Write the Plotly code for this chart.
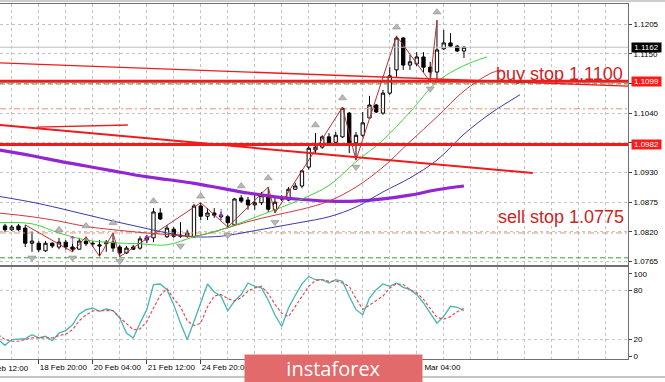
import plotly.graph_objects as go

# ---------------- data (EURUSD H4) ----------------
opens = [1.0831, 1.0824, 1.0831, 1.0827, 1.0799, 1.0799, 1.0785, 1.0799, 1.0792, 1.0801,
         1.0792, 1.0788, 1.0803, 1.0799, 1.0796, 1.0798, 1.0801, 1.0792, 1.0781, 1.0792,
         1.0790, 1.0805, 1.0809, 1.0855, 1.0811, 1.0825, 1.0814, 1.0812, 1.0811, 1.0868,
         1.0849, 1.0855, 1.0851, 1.0848, 1.0833, 1.0883, 1.0879, 1.0870, 1.0874, 1.0885,
         1.0861, 1.0883, 1.0879, 1.0899, 1.0905, 1.0940, 1.0972, 1.0977, 1.0996, 1.0986,
         1.0996, 1.1040, 1.0985, 1.0999, 1.1031, 1.1055, 1.1040, 1.1077, 1.1120, 1.1179,
         1.1129, 1.1131, 1.1144, 1.1125, 1.1116, 1.1159, 1.1170, 1.1164, 1.1155]
closes = [1.0824, 1.0829, 1.0824, 1.0799, 1.0803, 1.0787, 1.0799, 1.0794, 1.0801, 1.0792,
          1.0788, 1.0803, 1.0798, 1.0798, 1.0794, 1.0801, 1.0790, 1.0781, 1.0790, 1.0788,
          1.0807, 1.0809, 1.0857, 1.0844, 1.0827, 1.0812, 1.0812, 1.0818, 1.0868, 1.0849,
          1.0855, 1.0851, 1.0848, 1.0837, 1.0881, 1.0877, 1.0870, 1.0874, 1.0887, 1.0862,
          1.0875, 1.0881, 1.0899, 1.0905, 1.0933, 1.0975, 1.0977, 1.0996, 1.0985, 1.0999,
          1.1049, 1.0985, 1.0999, 1.1022, 1.1055, 1.1042, 1.1077, 1.1109, 1.1179, 1.1129,
          1.1135, 1.1144, 1.1125, 1.1116, 1.1157, 1.1170, 1.1164, 1.1155, 1.1162]
highs = [1.0835, 1.0833, 1.0835, 1.0833, 1.0820, 1.0803, 1.0803, 1.0801, 1.0809, 1.0805,
         1.0798, 1.0809, 1.0811, 1.0803, 1.0805, 1.0805, 1.0818, 1.0796, 1.0794, 1.0796,
         1.0812, 1.0814, 1.0864, 1.0864, 1.0833, 1.0829, 1.0838, 1.0824, 1.0872, 1.0874,
         1.0864, 1.0864, 1.0857, 1.0851, 1.0883, 1.0888, 1.0885, 1.0888, 1.0894, 1.0903,
         1.0883, 1.0888, 1.0903, 1.0911, 1.0935, 1.0979, 1.1003, 1.0999, 1.1003, 1.1005,
         1.1051, 1.1042, 1.1005, 1.1042, 1.1072, 1.1057, 1.1083, 1.1125, 1.1183, 1.1181,
         1.1148, 1.1153, 1.1153, 1.1135, 1.1212, 1.1194, 1.1188, 1.1166, 1.1164]
lows = [1.0820, 1.0822, 1.0822, 1.0792, 1.0783, 1.0783, 1.0783, 1.0790, 1.0788, 1.0787,
        1.0783, 1.0787, 1.0794, 1.0792, 1.0775, 1.0783, 1.0783, 1.0774, 1.0779, 1.0787,
        1.0787, 1.0799, 1.0801, 1.0842, 1.0809, 1.0809, 1.0809, 1.0809, 1.0809, 1.0842,
        1.0842, 1.0846, 1.0842, 1.0829, 1.0831, 1.0874, 1.0861, 1.0861, 1.0870, 1.0857,
        1.0855, 1.0877, 1.0877, 1.0898, 1.0901, 1.0935, 1.0966, 1.0974, 1.0981, 1.0985,
        1.0994, 1.0966, 1.0953, 1.0996, 1.1031, 1.1040, 1.1037, 1.1074, 1.1107, 1.1120,
        1.1120, 1.1127, 1.1116, 1.1098, 1.1101, 1.1157, 1.1162, 1.1153, 1.1142]
candle_idx = list(range(len(opens)))

# moving averages (bar index, price)
green_idx = [-1, 4, 8, 12, 16, 20, 24, 28, 32, 36, 40, 44, 48, 52, 56, 60, 64, 68, 71.4]
green_val = [1.0837, 1.0835, 1.0818, 1.0805, 1.0800, 1.0798, 1.0796, 1.0811, 1.0824, 1.0842,
             1.0861, 1.0881, 1.0906, 1.0950, 1.0990, 1.1042, 1.1098, 1.1128, 1.1144]
red_idx = [-1, 4, 8, 12, 16, 20, 24, 28, 32, 36, 40, 44, 48, 52, 56, 60, 64, 68, 72, 73.5]
red_val = [1.0855, 1.0848, 1.0840, 1.0830, 1.0824, 1.0819, 1.0815, 1.0812, 1.0824, 1.0839,
           1.0851, 1.0862, 1.0877, 1.0903, 1.0940, 1.0987, 1.1033, 1.1081, 1.1114, 1.1120]
blue_idx = [-1, 4, 8, 12, 16, 20, 24, 28, 32, 36, 40, 44, 48, 52, 56, 60, 64, 68, 72, 76.3]
blue_val = [1.0886, 1.0875, 1.0864, 1.0852, 1.0840, 1.0829, 1.0818, 1.0811, 1.0812, 1.0820,
            1.0829, 1.0838, 1.0848, 1.0866, 1.0894, 1.0920, 1.0953, 1.1001, 1.1040, 1.1074]
purple_idx = [-1, 4, 8, 12, 16, 20, 24, 28, 32, 36, 40, 44, 48, 52, 56, 60, 64, 68]
purple_val = [1.0972, 1.0961, 1.0951, 1.0942, 1.0933, 1.0924, 1.0917, 1.0910, 1.0901, 1.0892,
              1.0885, 1.0880, 1.0877, 1.0877, 1.0881, 1.0888, 1.0898, 1.0905]

# zigzag and fractals
zz_idx = [3, 10, 12, 14, 16, 17, 29, 33, 39, 40, 50, 52, 58, 63, 64]
zz_val = [1.0833, 1.0783, 1.0811, 1.0775, 1.0818, 1.0774, 1.0874, 1.0829, 1.0903, 1.0855,
          1.1051, 1.0953, 1.1183, 1.1098, 1.1212]
frac_up_idx = [8, 12, 16, 22, 29, 35, 39, 46, 50, 58, 64]
frac_up_val = [1.0824, 1.0831, 1.0837, 1.0877, 1.0886, 1.0905, 1.0920, 1.1018, 1.1068, 1.1199, 1.1227]
frac_dn_idx = [4, 10, 17, 26, 33, 40, 52, 63]
frac_dn_val = [1.0772, 1.0772, 1.0766, 1.0794, 1.0814, 1.0838, 1.0940, 1.1085]
sig_up_idx = [10, 21]
sig_up_val = [1.0803, 1.0805]
sig_dn_idx = [32]
sig_dn_val = [1.0853]

# horizontal levels and trend lines
key_levels = [1.1099, 1.0982]
green_dash_levels = [1.1094, 1.0772]
orange_levels = [1.1048, 1.0818]
bid_price = 1.1162
trend_upper_idx = [-0.74, 92.3]
trend_upper_val = [1.1133, 1.1090]
trend_lower_idx = [-0.74, 78.2]
trend_lower_val = [1.1018, 1.0929]
trend_short_idx = [4.7, 18.2]
trend_short_val = [1.1014, 1.1018]

# stochastic
stoch_idx = list(range(-1, 69))
stoch_main = [20, 13, 20, 20.5, 21, 26, 22, 24, 18.7, 28, 31, 38, 51, 56.5, 58.5, 54.5, 57.3, 55.3,
              46.3, 28, 22, 40, 56.5, 87, 87.8, 80.9, 62.6, 40, 20, 42, 64.6, 87.8, 78, 72.8,
              55.3, 67, 75, 89, 85, 83, 68, 50, 36, 58.5, 74, 88, 97, 93, 93, 89, 93, 91, 72.8,
              56.5, 50.4, 70.7, 80.9, 87.8, 85, 89, 83.7, 80.9, 74.8, 64.6, 52.4, 40, 48.4,
              60.6, 59.4, 55.3]
stoch_signal = [26, 20, 18, 18, 20, 22, 22, 22, 22, 25, 26.5, 32, 43, 50, 55, 55.3, 55.3, 55.3,
                47, 39, 32, 33, 42, 58.5, 74, 82, 70, 60, 43, 37, 40, 60, 73, 75, 70, 67, 71,
                79, 83, 85, 76, 63, 52, 48, 60, 72, 85, 92, 93, 91, 91.5, 89, 85, 70, 57, 62,
                68, 73, 83, 88, 87, 81, 77, 69, 58, 47, 45, 48, 54, 58]
stoch_levels = [20, 80]

# axes
price_ticks = [1.0765, 1.0820, 1.0875, 1.0930, 1.0985, 1.1040, 1.1095, 1.1150, 1.1205]
stoch_ticks = [0, 20, 80, 100]
time_tick_idx = [5, 13, 21, 29, 37, 45, 53, 61]
time_tick_text = ["18 Feb 20:00", "20 Feb 04:00", "21 Feb 12:00", "24 Feb 20:00",
                  "26 Feb 04:00", "27 Feb 12:00", "28 Feb 20:00", "3 Mar 04:00"]
first_time_label = "17 Feb 12:00"
grid_idx = list(range(1, 93, 4))

X_RANGE = [-0.741, 92.3]
Y_RANGE = [1.07587, 1.12430]
Y2_RANGE = [-3.66, 108.5]

GRID = "#c4c4c4"
BORDER = "#707070"
RED = "#ee1c1c"

fig = go.Figure()

fig.add_trace(go.Candlestick(
    x=candle_idx, open=opens, high=highs, low=lows, close=closes,
    increasing=dict(line=dict(color="black", width=1), fillcolor="white"),
    decreasing=dict(line=dict(color="black", width=1), fillcolor="black"),
    whiskerwidth=0, hoverinfo="skip", showlegend=False, xaxis="x", yaxis="y"))


def line(x, y, color, width=1, dash="solid", xa="x", ya="y", shape="linear"):
    fig.add_trace(go.Scatter(x=x, y=y, mode="lines", xaxis=xa, yaxis=ya,
                             line=dict(color=color, width=width, dash=dash, shape=shape),
                             hoverinfo="skip", showlegend=False))


# levels
line(X_RANGE, [bid_price, bid_price], "#c0c0c0", 1)
for p in green_dash_levels:
    line(X_RANGE, [p, p], "#3c9c3c", 1, "5px,3px")
for p in orange_levels:
    line(X_RANGE, [p, p], "#e8906a", 1, "6px,3px,2px,3px")

# moving averages
line(purple_idx, purple_val, "#9326d4", 3.2, shape="spline")
line(blue_idx, blue_val, "#3a3aa8", 1, shape="spline")
line(red_idx, red_val, "#cc3b3b", 1, shape="spline")
line(green_idx, green_val, "#3ed43e", 1, shape="spline")

# zigzag
line(zz_idx, zz_val, "#b83030", 1)

# fractals
fig.add_trace(go.Scatter(x=frac_up_idx, y=frac_up_val, mode="markers", xaxis="x", yaxis="y",
                         marker=dict(symbol="triangle-up", size=7, color="#b8b8b8",
                                     line=dict(color="#8c8c8c", width=0.6)),
                         hoverinfo="skip", showlegend=False))
fig.add_trace(go.Scatter(x=frac_dn_idx, y=frac_dn_val, mode="markers", xaxis="x", yaxis="y",
                         marker=dict(symbol="triangle-down", size=7, color="#b8b8b8",
                                     line=dict(color="#8c8c8c", width=0.6)),
                         hoverinfo="skip", showlegend=False))
fig.add_trace(go.Scatter(x=sig_up_idx, y=sig_up_val, mode="text", text=["↑"] * len(sig_up_idx),
                         textfont=dict(family="DejaVu Sans", size=11, color="#9b3cc8"),
                         xaxis="x", yaxis="y", hoverinfo="skip", showlegend=False))
fig.add_trace(go.Scatter(x=sig_dn_idx, y=sig_dn_val, mode="text", text=["↓"] * len(sig_dn_idx),
                         textfont=dict(family="DejaVu Sans", size=11, color="#9b3cc8"),
                         xaxis="x", yaxis="y", hoverinfo="skip", showlegend=False))

# trend lines and key levels
line(trend_short_idx, trend_short_val, RED, 1.3)
line(trend_upper_idx, trend_upper_val, RED, 1.4)
line(trend_lower_idx, trend_lower_val, RED, 2)
for p in key_levels:
    line(X_RANGE, [p, p], RED, 3)

# stochastic pane
for lv in stoch_levels:
    line(X_RANGE, [lv, lv], GRID, 1, "3px,3px", "x2", "y2")
line(stoch_idx, stoch_main, "#45b5b5", 1.3, "solid", "x2", "y2")
line(stoch_idx, stoch_signal, "#e0505c", 1.2, "3px,2px", "x2", "y2")

H = 382.0
W_PLOT = 628.0

fig.update_layout(
    width=665, height=382,
    margin=dict(l=0, r=37, t=0, b=0, autoexpand=False),
    paper_bgcolor="white", plot_bgcolor="white",
    showlegend=False,
    font=dict(family="Liberation Sans, Arial, sans-serif", size=8, color="black"),
    xaxis=dict(domain=[0, 1], range=X_RANGE, anchor="y", tickmode="array", tickvals=grid_idx,
               showticklabels=False, ticks="", showgrid=True, gridcolor=GRID, griddash="3px,3px",
               gridwidth=1, showline=True, linecolor=BORDER, linewidth=1, mirror=True,
               zeroline=False, rangeslider=dict(visible=False), fixedrange=True),
    yaxis=dict(domain=[1 - 265 / H, 1 - 3.5 / H], range=Y_RANGE, side="right", anchor="x",
               tickmode="array", tickvals=price_ticks, tickformat=".4f",
               ticks="outside", ticklen=3, tickcolor="#404040",
               showgrid=True, gridcolor=GRID, griddash="3px,3px", gridwidth=1,
               showline=True, linecolor=BORDER, linewidth=1, mirror=True, zeroline=False,
               fixedrange=True),
    xaxis2=dict(domain=[0, 1], range=X_RANGE, anchor="y2", tickmode="array",
                tickvals=time_tick_idx, ticktext=time_tick_text, tickangle=0,
                ticklabelposition="outside right", ticks="outside", ticklen=4,
                tickcolor="#404040", showgrid=True, gridcolor=GRID, griddash="3px,3px",
                minor=dict(tickmode="array",
                           tickvals=[g for g in grid_idx if g not in time_tick_idx],
                           showgrid=True, gridcolor=GRID, griddash="3px,3px", ticks=""),
                showline=True, linecolor=BORDER, linewidth=1, mirror=True, zeroline=False,
                rangeslider=dict(visible=False), fixedrange=True),
    yaxis2=dict(domain=[1 - 359 / H, 1 - 267 / H], range=Y2_RANGE, side="right", anchor="x2",
                tickmode="array", tickvals=stoch_ticks, ticks="outside", ticklen=3,
                tickcolor="#404040", showgrid=False, showline=True, linecolor=BORDER,
                linewidth=1, mirror=True, zeroline=False, fixedrange=True),
)

annotations = [
    dict(xref="paper", yref="paper", x=625 / W_PLOT, y=1 - 74 / H, xanchor="right",
         yanchor="middle", text="buy stop 1.1100", showarrow=False,
         font=dict(family="Liberation Sans, Arial", size=18, color="#cc2424")),
    dict(xref="paper", yref="paper", x=626 / W_PLOT, y=1 - 217 / H, xanchor="right",
         yanchor="middle", text="sell stop 1.0775", showarrow=False,
         font=dict(family="Liberation Sans, Arial", size=18, color="#cc2424")),
    dict(xref="paper", yref="y", x=1, y=bid_price, xanchor="left", yanchor="middle", xshift=3,
         text=f"{bid_price:.4f}", showarrow=False, bgcolor="black", borderpad=0,
         width=29, height=9, font=dict(size=8, color="white")),
    dict(xref="paper", yref="paper", x=0, y=1 - 368 / H, xanchor="right", yanchor="middle",
         xshift=31, text=first_time_label, showarrow=False, font=dict(size=8, color="black")),
    dict(xref="paper", yref="paper", x=333.5 / W_PLOT, y=1 - 368.5 / H, xanchor="center",
         yanchor="middle", text="instaforex", showarrow=False, bgcolor="#e26a6a",
         borderpad=0, width=177, height=27,
         font=dict(family="Open Sans, Liberation Sans", size=20, color="white")),
]
for p in key_levels:
    annotations.append(dict(xref="paper", yref="y", x=1, y=p, xanchor="left", yanchor="middle",
                            xshift=3, text=f"{p:.4f}", showarrow=False, bgcolor="#ff1a1a",
                            borderpad=0, width=29, height=9, font=dict(size=8, color="white")))
fig.update_layout(annotations=annotations)

fig.update_layout(shapes=[
    dict(type="line", xref="paper", yref="paper", x0=0, x1=665 / W_PLOT,
         y0=1 - 377 / H, y1=1 - 377 / H, line=dict(color="#8a8a8a", width=1)),
    dict(type="line", xref="paper", yref="paper", x0=0, x1=665 / W_PLOT,
         y0=1 - 1 / H, y1=1 - 1 / H, line=dict(color="#9a9a9a", width=1)),
])

fig.write_html("out.html", config={"displayModeBar": False},
               post_script="document.body.style.margin='0px';document.body.style.overflow='hidden';")
